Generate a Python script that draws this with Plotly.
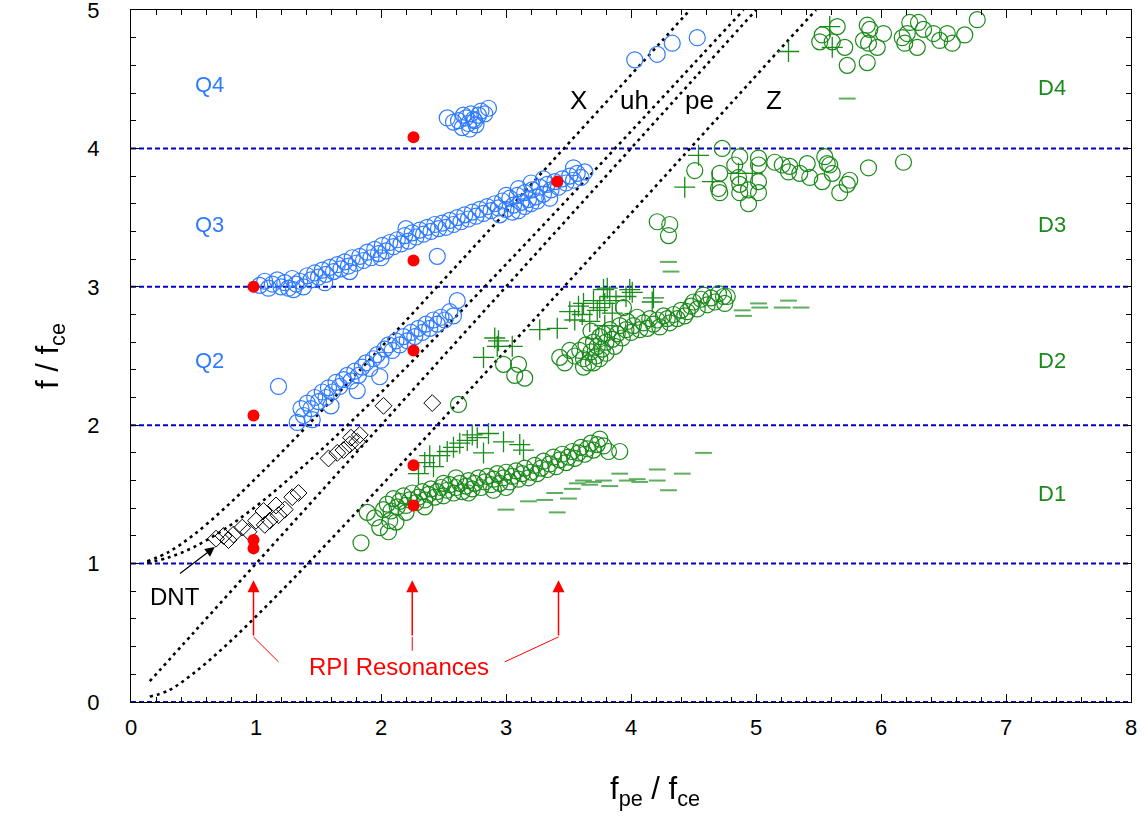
import plotly.graph_objects as go

# ---------------- data ----------------
# theoretical curves (f/fce vs fpe/fce)
x_curve_x = [0.13, 0.3, 0.5, 0.75, 1.0, 1.25, 1.5, 1.75, 2.0, 2.25, 2.5, 2.75, 3.0, 3.25, 3.5, 3.75, 4.0, 4.25, 4.47]
x_curve_y = [1.017, 1.083, 1.207, 1.401, 1.618, 1.846, 2.081, 2.32, 2.562, 2.805, 3.05, 3.295, 3.541, 3.788, 4.036, 4.283, 4.531, 4.779, 5.0]
uh_curve_x = [0.13, 0.3, 0.5, 0.75, 1.0, 1.25, 1.5, 1.75, 2.0, 2.25, 2.5, 2.75, 3.0, 3.25, 3.5, 3.75, 4.0, 4.25, 4.5, 4.9]
uh_curve_y = [1.008, 1.044, 1.118, 1.25, 1.414, 1.601, 1.803, 2.016, 2.236, 2.462, 2.693, 2.926, 3.162, 3.4, 3.64, 3.881, 4.123, 4.366, 4.61, 5.0]
pe_curve_x = [0.15, 0.5, 1.0, 1.5, 2.0, 2.5, 3.0, 3.5, 4.0, 4.5, 5.0]
pe_curve_y = [0.15, 0.5, 1.0, 1.5, 2.0, 2.5, 3.0, 3.5, 4.0, 4.5, 5.0]
z_curve_x = [0.15, 0.3, 0.5, 0.75, 1.0, 1.25, 1.5, 1.75, 2.0, 2.25, 2.5, 2.75, 3.0, 3.25, 3.5, 3.75, 4.0, 4.25, 4.5, 4.75, 5.0, 5.25, 5.48]
z_curve_y = [0.04, 0.083, 0.207, 0.401, 0.618, 0.846, 1.081, 1.32, 1.562, 1.805, 2.05, 2.295, 2.541, 2.788, 3.036, 3.283, 3.531, 3.779, 4.028, 4.276, 4.525, 4.774, 5.0]

harmonic_levels = [0, 1, 2, 3, 4]
x_ticks = [0, 1, 2, 3, 4, 5, 6, 7, 8]
y_ticks = [0, 1, 2, 3, 4, 5]

# Q (blue open circles)
q3_x = [1.03, 1.07, 1.10, 1.13, 1.17, 1.20, 1.23, 1.26, 1.29, 1.32, 1.35, 1.38, 1.41, 1.44, 1.47, 1.50,
        1.53, 1.56, 1.59, 1.62, 1.65, 1.68, 1.71, 1.74, 1.77, 1.80, 1.83, 1.86, 1.89, 1.92, 1.95, 1.98,
        2.01, 2.04, 2.07, 2.10, 2.13, 2.16, 2.19, 2.22, 2.25, 2.28, 2.31, 2.34, 2.37, 2.40, 2.43, 2.46,
        2.49, 2.52, 2.55, 2.58, 2.61, 2.64, 2.67, 2.70, 2.73, 2.76, 2.79, 2.82, 2.85, 2.88, 2.91, 2.94,
        2.97, 3.00, 3.03, 3.06, 3.09, 3.12, 3.15, 3.18, 3.21, 3.24, 3.27, 3.30, 3.33, 3.36, 3.39, 3.42,
        3.45, 3.48, 3.51, 3.54, 3.57, 3.60, 3.63,
        2.95, 3.05, 3.10, 3.15, 3.20, 3.25, 3.00, 3.10, 3.20, 3.30, 3.35, 2.45, 1.55, 1.75, 2.00, 2.20, 1.30, 3.54]
q3_y = [3.01, 3.04, 2.99, 3.02, 3.05, 3.00, 3.03, 2.99, 3.06, 3.02, 3.04, 3.00, 3.08, 3.05, 3.10, 3.07,
        3.12, 3.09, 3.14, 3.11, 3.16, 3.13, 3.18, 3.15, 3.21, 3.17, 3.22, 3.19, 3.25, 3.21, 3.27, 3.24,
        3.30, 3.26, 3.32, 3.29, 3.34, 3.31, 3.37, 3.33, 3.39, 3.36, 3.41, 3.38, 3.43, 3.40, 3.45, 3.42,
        3.46, 3.43, 3.48, 3.45, 3.50, 3.47, 3.52, 3.49, 3.54, 3.51, 3.56, 3.53, 3.58, 3.55, 3.60, 3.57,
        3.62, 3.56, 3.64, 3.59, 3.66, 3.61, 3.68, 3.63, 3.70, 3.65, 3.72, 3.67, 3.74, 3.70, 3.76, 3.72,
        3.78, 3.75, 3.80, 3.77, 3.82, 3.79, 3.83,
        3.52, 3.54, 3.55, 3.58, 3.60, 3.62, 3.66, 3.71, 3.75, 3.78, 3.64, 3.22, 3.03, 3.11, 3.21, 3.42, 2.98, 3.86]
q2_x = [1.33, 1.36, 1.38, 1.41, 1.44, 1.47, 1.50, 1.53, 1.56, 1.58, 1.61, 1.64, 1.67, 1.70, 1.73, 1.76,
        1.79, 1.82, 1.85, 1.88, 1.91, 1.94, 1.97, 2.00, 2.03, 2.06, 2.09, 2.12, 2.15, 2.18, 2.21, 2.24,
        2.27, 2.30, 2.33, 2.36, 2.39, 2.42, 2.45, 2.48, 2.51, 2.55, 2.58, 2.61,
        1.18, 1.81, 1.99, 1.45, 1.60]
q2_y = [2.02, 2.12, 2.07, 2.16, 2.12, 2.20, 2.17, 2.24, 2.20, 2.27, 2.24, 2.31, 2.28, 2.33, 2.36, 2.32,
        2.39, 2.36, 2.42, 2.45, 2.41, 2.48, 2.51, 2.47, 2.55, 2.58, 2.54, 2.61, 2.58, 2.64, 2.61, 2.67,
        2.64, 2.70, 2.67, 2.73, 2.70, 2.76, 2.73, 2.78, 2.76, 2.82, 2.79, 2.90,
        2.28, 2.25, 2.35, 2.04, 2.14]
q4_x = [2.53, 2.58, 2.62, 2.65, 2.68, 2.70, 2.72, 2.74, 2.76, 2.78, 2.80, 2.83, 2.86, 2.66, 2.71, 2.75,
        4.03, 4.21, 4.33, 4.53]
q4_y = [4.22, 4.19, 4.20, 4.15, 4.22, 4.18, 4.25, 4.21, 4.17, 4.24, 4.27, 4.25, 4.29, 4.24, 4.14, 4.20,
        4.64, 4.68, 4.76, 4.80]

# D (green)
d_circ_x = [2.05, 2.08, 2.10, 2.13, 2.15, 2.18, 2.20, 2.23, 2.25, 2.28, 2.30, 2.33, 2.35, 2.38, 2.40, 2.43,
            2.45, 2.48, 2.50, 2.53, 2.55, 2.58, 2.60, 2.63, 2.65, 2.68, 2.70, 2.73, 2.75, 2.78, 2.80, 2.83,
            2.85, 2.88, 2.90, 2.93, 2.95, 2.98, 3.00, 3.03, 3.05, 3.08, 3.10, 3.13, 3.15, 3.18, 3.20, 3.23,
            3.25, 3.28, 3.30, 3.33, 3.35, 3.38, 3.40, 3.43, 3.45, 3.48, 3.50, 3.53, 3.55, 3.58, 3.60, 3.63,
            3.65, 3.68, 3.70, 3.73, 3.75, 3.78, 3.82, 3.91,
            2.50, 2.70, 2.90, 3.00, 2.60, 2.35, 2.20,
            1.84, 1.89, 1.99, 2.06, 2.07, 2.02, 1.95, 2.12,
            2.62,
            2.98, 3.07, 3.10, 3.15, 3.43, 3.47, 3.51, 3.55, 3.59, 3.62, 3.64, 3.66, 3.68, 3.70, 3.72, 3.73,
            3.75, 3.77, 3.78, 3.80, 3.83, 3.85, 3.87, 3.89, 3.91, 3.93, 3.94, 3.96, 3.97, 4.00, 4.02, 4.05,
            4.07, 4.10, 4.13, 4.15, 4.18, 4.21, 4.23, 4.26, 4.29, 4.31, 4.34, 4.37, 4.40, 4.43, 4.45, 4.48,
            4.50, 4.53, 4.56, 4.58, 4.61, 4.64, 4.67, 4.70, 4.74, 4.77, 4.75,
            3.62, 3.70, 3.75, 3.80, 3.68,
            4.21, 4.31, 4.30,
            4.73, 4.51, 4.71, 4.70, 4.71, 4.83, 4.87, 4.86, 4.87, 4.87, 4.94, 4.94, 5.02, 5.02, 5.02, 5.02,
            5.15, 5.21, 5.27, 5.26, 5.35, 5.41, 5.43, 5.53, 5.55, 5.57, 5.59, 5.61, 5.67, 5.73, 5.75, 5.90, 6.18,
            5.65, 5.53, 5.51, 5.61, 5.71, 5.73, 5.89, 5.91, 5.86, 5.90, 5.97, 5.89, 6.02, 6.17, 6.21, 6.23,
            6.30, 6.19, 6.29, 6.34, 6.42, 6.47, 6.53, 6.57, 6.67, 6.77]
d_circ_y = [1.43, 1.38, 1.47, 1.41, 1.45, 1.49, 1.42, 1.46, 1.51, 1.44, 1.48, 1.52, 1.46, 1.50, 1.54, 1.48,
            1.52, 1.55, 1.49, 1.53, 1.57, 1.51, 1.55, 1.58, 1.52, 1.56, 1.60, 1.54, 1.58, 1.62, 1.55, 1.59,
            1.63, 1.57, 1.61, 1.65, 1.58, 1.62, 1.66, 1.59, 1.63, 1.67, 1.61, 1.65, 1.69, 1.62, 1.66, 1.71,
            1.65, 1.69, 1.74, 1.68, 1.72, 1.77, 1.70, 1.75, 1.79, 1.73, 1.77, 1.81, 1.76, 1.80, 1.84, 1.79,
            1.83, 1.87, 1.82, 1.86, 1.90, 1.85, 1.81, 1.81,
            1.58, 1.51, 1.53, 1.55, 1.62, 1.41, 1.37,
            1.15, 1.37, 1.26, 1.23, 1.31, 1.39, 1.33, 1.30,
            2.15,
            2.44, 2.36, 2.44, 2.34, 2.49, 2.45, 2.54, 2.50, 2.54, 2.48, 2.58, 2.45, 2.53, 2.60, 2.50, 2.57,
            2.64, 2.55, 2.66, 2.60, 2.69, 2.62, 2.57, 2.66, 2.72, 2.63, 2.85, 2.69, 2.75, 2.67, 2.72, 2.78,
            2.69, 2.74, 2.70, 2.77, 2.73, 2.76, 2.71, 2.79, 2.77, 2.74, 2.80, 2.77, 2.83, 2.79, 2.82, 2.86,
            2.89, 2.84, 2.91, 2.94, 2.87, 2.92, 2.89, 2.95, 2.93, 2.93, 2.88,
            2.42, 2.45, 2.48, 2.52, 2.68,
            3.47, 3.45, 3.37,
            4.00, 3.84, 3.82, 3.71, 3.68, 3.88, 3.94, 3.79, 3.74, 3.68, 3.70, 3.60, 3.93, 3.88, 3.76, 3.68,
            3.90, 3.88, 3.87, 3.83, 3.82, 3.89, 3.79, 3.76, 3.94, 3.89, 3.88, 3.82, 3.68, 3.74, 3.77, 3.86, 3.90,
            4.88, 4.82, 4.77, 4.77, 4.73, 4.60, 4.89, 4.86, 4.78, 4.76, 4.73, 4.62, 4.83, 4.80, 4.83, 4.91,
            4.91, 4.76, 4.73, 4.86, 4.83, 4.78, 4.83, 4.76, 4.82, 4.93]

d_plus_x = [2.30, 2.39, 2.42, 2.47, 2.53, 2.58, 2.63, 2.69, 2.73, 2.77, 2.86, 2.82, 2.98, 3.11, 3.14, 2.35,
            2.82, 2.91, 2.94, 2.93, 3.05, 3.27, 3.41, 3.51, 3.55, 3.62, 3.67, 3.73, 3.78, 3.79, 3.83, 3.88,
            3.96, 4.01, 3.79, 4.18, 4.17, 3.81, 3.99, 3.61, 3.58, 3.70, 3.75, 3.85,
            4.54, 4.43, 4.65, 4.86, 4.97,
            5.59, 5.61, 5.26]
d_plus_y = [1.65, 1.78, 1.70, 1.78, 1.81, 1.84, 1.87, 1.89, 1.93, 1.91, 1.94, 1.80, 1.88, 1.86, 1.82, 1.73,
            2.49, 2.63, 2.61, 2.57, 2.57, 2.69, 2.70, 2.82, 2.76, 2.88, 2.75, 2.83, 2.98, 2.88, 2.93, 2.90,
            2.93, 2.96, 2.72, 2.92, 2.89, 2.99, 2.98, 2.80, 2.86, 2.90, 2.85, 2.81,
            3.95, 3.72, 3.76, 3.82, 3.82,
            4.88, 4.73, 4.70]

d_dash_x = [3.00, 3.18, 3.31, 3.39, 3.41, 3.50, 3.53, 3.57, 3.62, 3.67, 3.70, 3.78, 3.83, 3.91, 3.97, 4.05,
            4.07, 4.21, 4.21, 4.30, 4.41, 4.58,
            4.89, 4.90, 5.02, 5.03, 5.21, 5.26, 5.36, 4.30, 4.32,
            5.73]
d_dash_y = [1.39, 1.45, 1.46, 1.51, 1.37, 1.47, 1.54, 1.58, 1.60, 1.57, 1.59, 1.60, 1.56, 1.65, 1.60, 1.61,
            1.59, 1.68, 1.60, 1.53, 1.65, 1.80,
            2.83, 2.79, 2.88, 2.85, 2.85, 2.90, 2.85, 3.18, 3.11,
            4.36]

# DNT (black open diamonds)
dnt_x = [0.68, 0.74, 0.78, 0.82, 0.89, 0.94, 1.00, 1.06, 1.07, 1.11, 1.16, 1.18, 1.23, 1.29, 1.34,
         1.58, 1.65, 1.70, 1.75, 1.81, 1.76, 1.83, 2.02, 2.41]
dnt_y = [1.18, 1.20, 1.17, 1.21, 1.26, 1.23, 1.31, 1.38, 1.28, 1.31, 1.42, 1.35, 1.39, 1.48, 1.51,
         1.76, 1.80, 1.82, 1.86, 1.88, 1.91, 1.93, 2.14, 2.16]

# RPI resonances (red filled circles)
rpi_x = [0.98, 0.98, 0.98, 0.98, 2.26, 2.26, 2.26, 2.26, 2.26, 3.41]
rpi_y = [1.11, 1.17, 2.07, 3.00, 1.42, 1.71, 2.54, 3.19, 4.08, 3.76]
rpi_arrow_x = [0.98, 2.25, 3.42]

# ---------------- figure ----------------
FONT = "Liberation Sans, Arial, sans-serif"
BLUE = "#2f7bff"
GREEN = "#1a8a1a"
fig = go.Figure()

for lvl in harmonic_levels:
    fig.add_shape(type="line", xref="x", yref="y", x0=0, x1=8, y0=lvl, y1=lvl,
                  line=dict(color="#0000c8", width=2, dash="5px,3px"), layer="below")

for cx, cy in [(x_curve_x, x_curve_y), (uh_curve_x, uh_curve_y), (pe_curve_x, pe_curve_y), (z_curve_x, z_curve_y)]:
    fig.add_trace(go.Scatter(x=cx, y=cy, mode="lines", line=dict(color="black", width=2.6, dash="3px,4px", shape="spline"),
                             hoverinfo="skip", showlegend=False))

fig.add_trace(go.Scatter(x=q3_x + q2_x + q4_x, y=q3_y + q2_y + q4_y, mode="markers",
                         marker=dict(symbol="circle-open", size=16, color=BLUE, line=dict(width=1.2)), showlegend=False))
fig.add_trace(go.Scatter(x=d_circ_x, y=d_circ_y, mode="markers",
                         marker=dict(symbol="circle-open", size=16, color=GREEN, line=dict(width=1.2)), showlegend=False))
fig.add_trace(go.Scatter(x=d_plus_x, y=d_plus_y, mode="markers",
                         marker=dict(symbol="cross-thin-open", size=15, color=GREEN, line=dict(width=1.3, color=GREEN)), showlegend=False))
fig.add_trace(go.Scatter(x=d_dash_x, y=d_dash_y, mode="markers", opacity=0.7,
                         marker=dict(symbol="line-ew-open", size=12, color=GREEN, line=dict(width=2, color=GREEN)), showlegend=False))
fig.add_trace(go.Scatter(x=dnt_x, y=dnt_y, mode="markers",
                         marker=dict(symbol="diamond-open", size=13, color="black", line=dict(width=1)), showlegend=False))
fig.add_trace(go.Scatter(x=rpi_x, y=rpi_y, mode="markers",
                         marker=dict(symbol="circle", size=12, color="#ff0000"), showlegend=False))

# connectors from "RPI Resonances" text to arrows
fig.add_trace(go.Scatter(x=[rpi_arrow_x[0], 1.18], y=[0.47, 0.29], mode="lines", line=dict(color="red", width=1), showlegend=False))
fig.add_trace(go.Scatter(x=[rpi_arrow_x[1], rpi_arrow_x[1]], y=[0.47, 0.37], mode="lines", line=dict(color="red", width=1), showlegend=False))
fig.add_trace(go.Scatter(x=[rpi_arrow_x[2], 2.99], y=[0.47, 0.29], mode="lines", line=dict(color="red", width=1), showlegend=False))

ann = []
for ax_ in rpi_arrow_x:
    ann.append(dict(x=ax_, y=0.88, ax=ax_, ay=0.47, xref="x", yref="y", axref="x", ayref="y", text="",
                    showarrow=True, arrowhead=2, arrowsize=1.6, arrowwidth=1.5, arrowcolor="red"))
ann.append(dict(x=0.67, y=1.12, ax=0.38, ay=0.92, xref="x", yref="y", axref="x", ayref="y", text="",
                showarrow=True, arrowhead=2, arrowsize=1.6, arrowwidth=1.2, arrowcolor="black"))
ann.append(dict(x=2.14, y=0.26, text="RPI Resonances", showarrow=False, font=dict(family=FONT, size=24, color="red")))
ann.append(dict(x=0.35, y=0.76, text="DNT", showarrow=False, font=dict(family=FONT, size=24, color="black")))
for txt, tx in [("X", 3.58), ("uh", 4.03), ("pe", 4.55), ("Z", 5.14)]:
    ann.append(dict(x=tx, y=4.35, text=txt, showarrow=False, font=dict(family=FONT, size=26, color="black")))
for txt, ty in [("Q4", 4.46), ("Q3", 3.45), ("Q2", 2.47)]:
    ann.append(dict(x=0.63, y=ty, text=txt, showarrow=False, font=dict(family=FONT, size=22, color=BLUE)))
for txt, ty in [("D4", 4.44), ("D3", 3.45), ("D2", 2.47), ("D1", 1.51)]:
    ann.append(dict(x=7.37, y=ty, text=txt, showarrow=False, font=dict(family=FONT, size=22, color=GREEN)))
ann.append(dict(x=0.524, y=-0.16, xref="paper", yref="paper", text="f<sub>pe</sub> / f<sub>ce</sub>", showarrow=False,
                font=dict(family=FONT, size=31, color="black")))
ann.append(dict(x=-0.103, y=0.5, xref="paper", yref="paper", text="f / f<sub>ce</sub>", showarrow=False, textangle=-90,
                font=dict(family=FONT, size=31, color="black")))

axis_common = dict(showline=True, linecolor="black", linewidth=1, mirror="ticks", ticks="inside",
                   showgrid=False, zeroline=False, tickfont=dict(family=FONT, size=22, color="black"),
                   tickcolor="black", ticklen=8, tickmode="array", ticklabeloverflow="allow", automargin=False)
fig.update_layout(
    width=1146, height=833,
    margin=dict(l=131, r=15, t=10, b=131, autoexpand=False),
    plot_bgcolor="white", paper_bgcolor="white",
    xaxis=dict(range=[0, 8], tickvals=x_ticks, ticktext=[str(v) for v in x_ticks], ticklabelstandoff=6,
               minor=dict(dtick=0.2, tick0=0, ticks="inside", ticklen=5, tickcolor="black"), **axis_common),
    yaxis=dict(range=[0, 5], tickvals=y_ticks, ticktext=[str(v) for v in y_ticks], ticklabelstandoff=26,
               minor=dict(dtick=0.2, tick0=0, ticks="inside", ticklen=5, tickcolor="black"), **axis_common),
    annotations=ann,
    showlegend=False,
)

fig.write_html("out.html", config={"displayModeBar": False},
               post_script="document.body.style.margin='0px';")
